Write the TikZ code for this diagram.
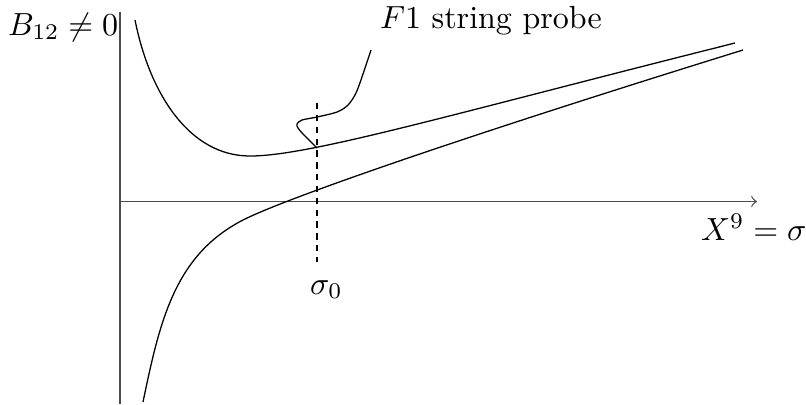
\documentclass[tikz,border=0pt]{standalone}
\begin{document}
\begin{tikzpicture}[x=0.3125pt,y=-0.3125pt,
  axis/.style={line width=0.4pt,draw=black!70},
  curve/.style={line width=0.4pt},
  guide/.style={line width=0.4pt,dash pattern=on 2pt off 1.7pt},
  lbl/.style={anchor=base west,inner sep=0pt,outer sep=0pt}]
\useasboundingbox (0,0) rectangle (806,404);
% axes
\coordinate (ytop) at (120,12);
\coordinate (ybot) at (120,404);
\coordinate (xl) at (120,201.5);
\coordinate (xr) at (757,201.5);
\draw[axis] (ybot) -- (ytop);
\draw[axis,-to] (xl) -- (xr);
% dashed line at sigma_0
\coordinate (dtop) at (317,103);
\coordinate (dbot) at (317,262);
\draw[guide] (dtop) -- (dbot);
% upper curve
\draw[curve] (135,20) .. controls (150,95) and (190,156) .. (250,156)
  .. controls (310,156) and (450,114.5) .. (735,43);
% lower curve
\draw[curve] (143,402) .. controls (160,320) and (175,255) .. (243,220)
  .. controls (283,199.6) and (450,140.8) .. (743,50);
% probe string
\draw[curve] plot[smooth,tension=0.5] coordinates {(317,148) (310,141) (303,134) (298,128) (297,124) (302,120) (317,117) (337,112) (348,105) (356,93) (363,74) (371,50)};
% labels
\node[lbl] (lB) at (8,35) {$B_{12}\neq 0$};
\node[lbl] (lF) at (380,28) {$F1$ string probe};
\node[lbl] (lX) at (701,240) {$X^9=\sigma$};
\node[lbl] (ls) at (310,294) {$\sigma_0$};
\end{tikzpicture}
\end{document}
